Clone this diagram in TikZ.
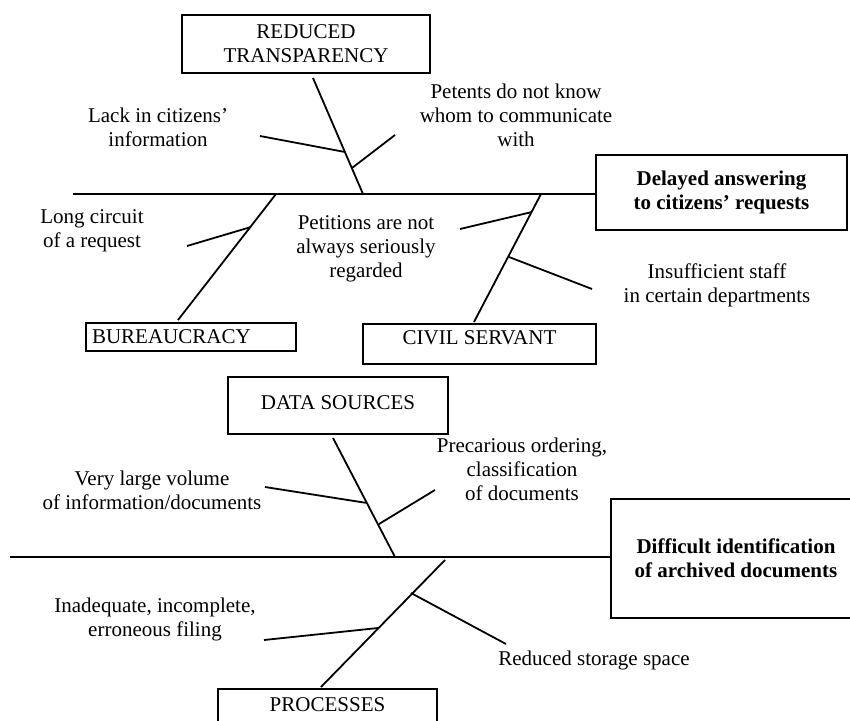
\documentclass[tikz,border=0pt]{standalone}
\usepackage{fontspec}
\setmainfont{Liberation Serif}

\begin{document}
\begin{tikzpicture}[x=1pt,y=-1pt,
  every node/.style={font=\fontsize{21}{24}\selectfont},
  box/.style={draw,line width=2.1pt,inner sep=4pt,align=center},
  effect/.style={box,font=\fontsize{21}{24}\selectfont\bfseries},
  bone/.style={line width=1.8pt},
  lbl/.style={align=center,inner sep=0pt}]
  \useasboundingbox (0,0) rectangle (850,720);
  \clip (0,0) rectangle (850,720);

  \node[box,minimum width=248pt,minimum height=58pt] (rt) at (306,44) {REDUCED\\TRANSPARENCY};
  \node[effect,minimum width=251pt,minimum height=75pt] (eff1) at (721.5,192.5) {Delayed answering\\to citizens’ requests};
  \node[box,minimum width=210pt,minimum height=28pt,inner ysep=0pt,text width=198pt,align=left] (bur) at (191,337) {BUREAUCRACY};
  \node[box,minimum width=233pt,text height=16pt,text depth=16pt,anchor=north] (cs) at (479.5,323) {CIVIL SERVANT};

  \node[lbl] (l1) at (158,127.5) {Lack in citizens’\\information};
  \node[lbl] (l2) at (516,115) {Petents do not know\\whom to communicate\\with};
  \node[lbl] (l3) at (92,231) {Long circuit\\of a request};
  \node[lbl] (l4) at (366,248.5) {Petitions are not\\always seriously\\regarded};
  \node[lbl] (l5) at (717,285) {Insufficient staff\\in certain departments};

  \coordinate (s1) at (73,194);
  \coordinate (r1) at (313,78);  \coordinate (r2) at (363,194);
  \coordinate (r3) at (260,136); \coordinate (r4) at (345,152);
  \coordinate (r5) at (395,135); \coordinate (r6) at (352,168);
  \coordinate (b1) at (178,320); \coordinate (b2) at (276,194);
  \coordinate (b3) at (187,246); \coordinate (b4) at (251,227);
  \coordinate (c1) at (474,322); \coordinate (c2) at (541,194);
  \coordinate (c3) at (460,229); \coordinate (c4) at (532,212);
  \coordinate (c5) at (592,289); \coordinate (c6) at (509,257);

  \draw[bone] (s1) -- (s1 -| eff1.west);
  \draw[bone] (r1) -- (r2);
  \draw[bone] (r3) -- (r4);
  \draw[bone] (r5) -- (r6);
  \draw[bone] (b1) -- (b2);
  \draw[bone] (b3) -- (b4);
  \draw[bone] (c1) -- (c2);
  \draw[bone] (c3) -- (c4);
  \draw[bone] (c5) -- (c6);

  \node[box,minimum width=220pt,text height=28pt,text depth=21pt,anchor=north] (ds) at (338,376) {DATA SOURCES};
  \node[effect,minimum width=250pt,minimum height=119pt] (eff2) at (736,558.5) {Difficult identification\\of archived documents};
  \node[box,minimum width=219pt,text height=18pt,text depth=30pt,anchor=north] (proc) at (327.5,688) {PROCESSES};

  \node[lbl] (l6) at (152,490) {Very large volume\\of information/documents};
  \node[lbl] (l7) at (522,469.5) {Precarious ordering,\\classification\\of documents};
  \node[lbl] (l8) at (155,619.5) {Inadequate, incomplete,\\erroneous filing};
  \node[lbl] (l9) at (594,660) {Reduced storage space};

  \coordinate (s2) at (10,557);
  \coordinate (d1) at (333,438); \coordinate (d2) at (395,557);
  \coordinate (d3) at (265,487); \coordinate (d4) at (367,503);
  \coordinate (d5) at (435,490); \coordinate (d6) at (379,524);
  \coordinate (p1) at (321,687); \coordinate (p2) at (445,560);
  \coordinate (p3) at (264,640); \coordinate (p4) at (378,628);
  \coordinate (p5) at (506,644); \coordinate (p6) at (411,593);

  \draw[bone] (s2) -- (s2 -| eff2.west);
  \draw[bone] (d1) -- (d2);
  \draw[bone] (d3) -- (d4);
  \draw[bone] (d5) -- (d6);
  \draw[bone] (p1) -- (p2);
  \draw[bone] (p3) -- (p4);
  \draw[bone] (p5) -- (p6);
\end{tikzpicture}
\end{document}
